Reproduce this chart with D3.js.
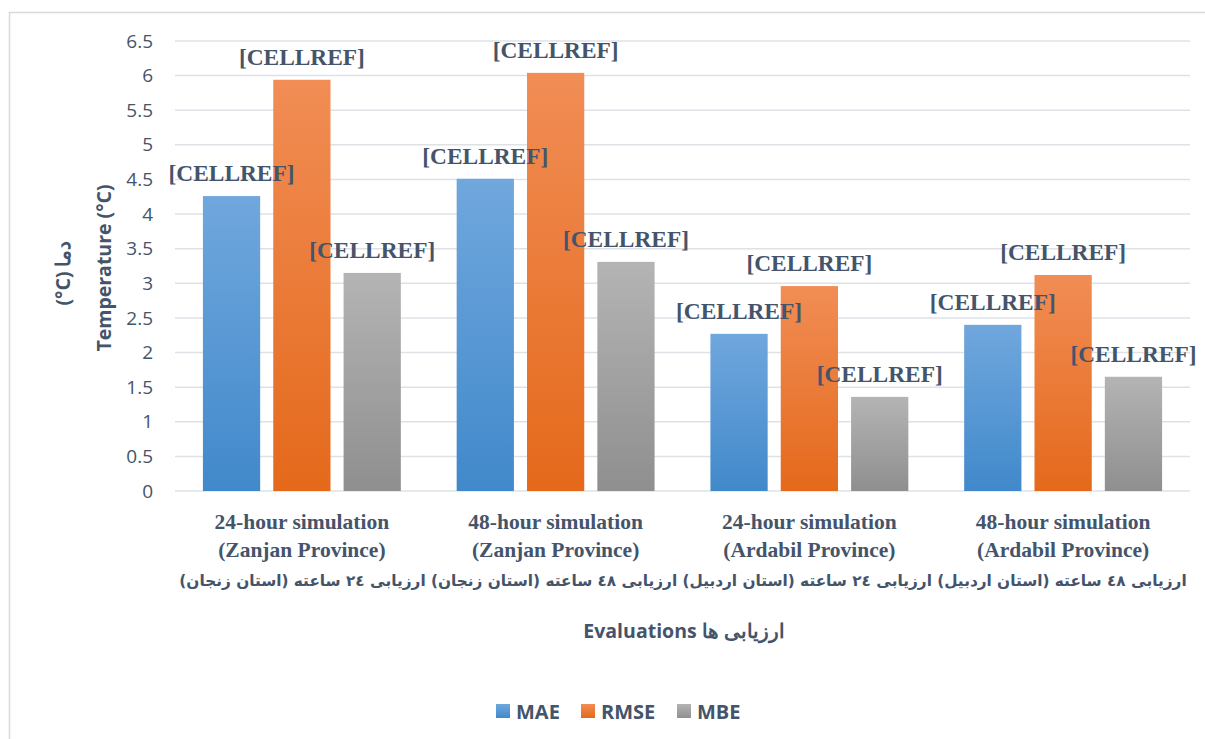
<!DOCTYPE html>
<html>
<head>
<meta charset="utf-8">
<script src="https://cdn.jsdelivr.net/npm/d3@7"></script>
<style>
  body { margin: 0; background: #fff; }
  svg { display: block; }
</style>
</head>
<body>
<div id="chart"></div>
<script>
'use strict'

// data
const categories = ['24h-zanjan', '48h-zanjan', '24h-ardabil', '48h-ardabil']
const catLine1 = ['24-hour simulation', '48-hour simulation', '24-hour simulation', '48-hour simulation']
const catLine2 = ['(Zanjan Province)', '(Zanjan Province)', '(Ardabil Province)', '(Ardabil Province)']
const seriesNames = ['MAE', 'RMSE', 'MBE']
const mae = [4.26, 4.51, 2.27, 2.40]
const rmse = [5.94, 6.04, 2.96, 3.12]
const mbe = [3.15, 3.31, 1.36, 1.65]
const yTicks = [0, 0.5, 1, 1.5, 2, 2.5, 3, 3.5, 4, 4.5, 5, 5.5, 6, 6.5]
// persian line in reading order (right to left)
const persianWords = ['ارزیابی', '٤٨', 'ساعته', '(استان', 'اردبیل)', 'ارزیابی', '٢٤', 'ساعته', '(استان', 'اردبیل)',
  'ارزیابی', '٤٨', 'ساعته', '(استان', 'زنجان)', 'ارزیابی', '٢٤', 'ساعته', '(استان', 'زنجان)']
const xTitleWords = ['Evaluations', 'ها', 'ارزیابی']
const yTitle2Words = ['(°C)', 'دما']

const W = 1205, H = 739
const ink = '#44546A'
const colors = {
  MAE: ['#70A7DD', '#4189CB'],
  RMSE: ['#F18D55', '#E4691B'],
  MBE: ['#B4B4B4', '#8F8F8F']
}
const sans = '"Open Sans", sans-serif'
const serif = '"Liberation Serif", "Times New Roman", serif'

let svg = d3.select('#chart').append('svg')
  .attr('width', W)
  .attr('height', H)

let defs = svg.append('defs')
seriesNames.forEach(function(s) {
  let g = defs.append('linearGradient')
    .attr('id', 'grad-' + s)
    .attr('x1', 0).attr('y1', 0).attr('x2', 0).attr('y2', 1)
  g.append('stop').attr('offset', '0%').attr('stop-color', colors[s][0])
  g.append('stop').attr('offset', '100%').attr('stop-color', colors[s][1])
})

// outer frame (runs off the right and bottom edge)
svg.append('rect')
  .attr('x', 9.5).attr('y', 12.5)
  .attr('width', 1210).attr('height', 740)
  .attr('fill', 'none')
  .attr('stroke', '#D9D9D9')
  .attr('stroke-width', 1.5)

let x0 = d3.scaleBand().domain(categories).range([175, 1190]).paddingInner(0.22).paddingOuter(0.11)
let x1 = d3.scaleBand().domain(seriesNames).range([0, x0.bandwidth()]).paddingInner(0.186)
let y = d3.scaleLinear().domain([0, 6.5]).range([491, 41])

// grid
svg.append('g')
  .selectAll('line')
  .data(yTicks)
  .join('line')
  .attr('x1', 175).attr('x2', 1190)
  .attr('y1', d => y(d)).attr('y2', d => y(d))
  .attr('stroke', '#DEE2E7')
  .attr('stroke-width', 1.5)

// y axis labels
let yAxis = d3.axisLeft(y).tickValues(yTicks).tickSize(0).tickPadding(0).tickFormat(d3.format('~g'))
let yg = svg.append('g')
  .attr('transform', 'translate(153,0)')
  .call(yAxis)
yg.select('.domain').remove()
yg.selectAll('text')
  .attr('font-family', sans)
  .attr('font-size', 19)
  .attr('fill', ink)

// bars
let rows = seriesNames.map(function(s, i) {
  let vals = [mae, rmse, mbe][i]
  return categories.map((c, j) => ({s: s, c: c, v: vals[j]}))
}).flat()

svg.append('g')
  .selectAll('rect')
  .data(rows)
  .join('rect')
  .attr('x', d => x0(d.c) + x1(d.s))
  .attr('width', x1.bandwidth())
  .attr('y', d => y(d.v))
  .attr('height', d => y(0) - y(d.v))
  .attr('fill', d => 'url(#grad-' + d.s + ')')

// data labels
svg.append('g')
  .selectAll('text')
  .data(rows)
  .join('text')
  .attr('x', d => x0(d.c) + x1(d.s) + x1.bandwidth() / 2)
  .attr('y', d => y(d.v) - 15)
  .attr('text-anchor', 'middle')
  .attr('font-family', serif)
  .attr('font-weight', 'bold')
  .attr('font-size', 23)
  .attr('textLength', 126)
  .attr('lengthAdjust', 'spacingAndGlyphs')
  .attr('fill', ink)
  .text('[CELLREF]')

// category labels
let cl = svg.append('g')
  .selectAll('text')
  .data(categories)
  .join('text')
  .attr('text-anchor', 'middle')
  .attr('font-family', serif)
  .attr('font-weight', 'bold')
  .attr('font-size', 21.5)
  .attr('fill', ink)
cl.append('tspan')
  .attr('x', d => x0(d) + x0.bandwidth() / 2)
  .attr('y', 529)
  .text((d, i) => catLine1[i])
cl.append('tspan')
  .attr('x', d => x0(d) + x0.bandwidth() / 2)
  .attr('y', 557)
  .text((d, i) => catLine2[i])

// lays words out one text each, centred on cx; rtl rows go from the right
function wordRow(parent, words, cx, cy, size, family, gap, opts) {
  opts = opts || {}
  let g = parent.append('g')
  let ts = words.map(w => g.append('text')
    .attr('direction', opts.rtl ? 'rtl' : 'ltr')
    .attr('text-anchor', 'start')
    .attr('font-family', family)
    .attr('font-weight', 'bold')
    .attr('font-size', size)
    .attr('fill', ink)
    .text(w))
  let lens = ts.map(t => t.node().getComputedTextLength())
  let total = d3.sum(lens) + gap * (words.length - 1)
  if (opts.width) {
    let k = opts.width / total
    ts.forEach(t => t.attr('font-size', size * k))
    lens = ts.map(t => t.node().getComputedTextLength())
    gap = gap * k
    total = d3.sum(lens) + gap * (words.length - 1)
  }
  if (opts.rtl) {
    // start of an rtl text is its right edge
    let pos = total / 2
    ts.forEach(function(t, i) {
      t.attr('x', pos)
      pos -= lens[i] + gap
    })
  } else {
    let pos = -total / 2
    ts.forEach(function(t, i) {
      t.attr('x', pos)
      pos += lens[i] + gap
    })
  }
  g.attr('transform', 'translate(' + cx + ',' + cy + ')' + (opts.rotate ? ' rotate(' + opts.rotate + ')' : ''))
  return g
}

wordRow(svg, persianWords, 683, 586, 16, '"DejaVu Sans", sans-serif', 5.5, {rtl: true, width: 1008})
wordRow(svg, xTitleWords, 684, 638, 19.5, sans, 5)

// y axis titles
svg.append('text')
  .attr('transform', 'translate(111,268) rotate(-90)')
  .attr('text-anchor', 'middle')
  .attr('font-family', sans)
  .attr('font-weight', 'bold')
  .attr('font-size', 19.5)
  .attr('fill', ink)
  .text('Temperature (°C)')

wordRow(svg, yTitle2Words, 70, 273, 19.5, sans, 5, {rotate: -90})

// legend
let legX = [496, 581, 677]
let leg = svg.append('g')
  .selectAll('g')
  .data(seriesNames)
  .join('g')
  .attr('transform', (d, i) => 'translate(' + legX[i] + ',704)')
leg.append('rect')
  .attr('width', 14).attr('height', 14)
  .attr('fill', d => 'url(#grad-' + d + ')')
leg.append('text')
  .attr('x', 20)
  .attr('y', 14.5)
  .attr('font-family', sans)
  .attr('font-weight', 'bold')
  .attr('font-size', 20)
  .attr('fill', ink)
  .text(d => d)
</script>
</body>
</html>
